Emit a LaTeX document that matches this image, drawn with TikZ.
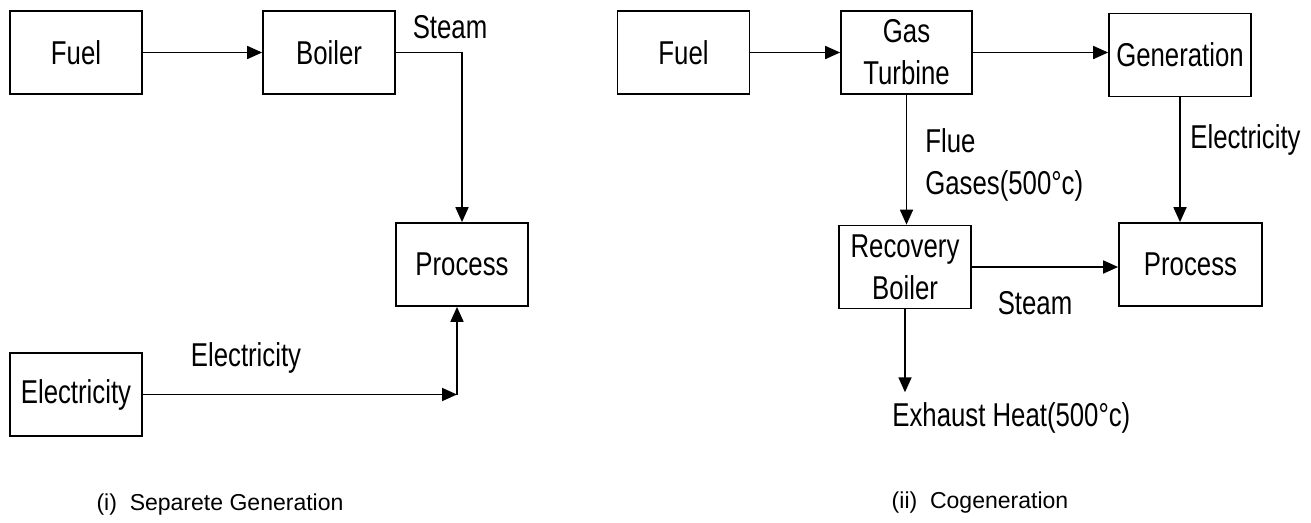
\documentclass[tikz,border=0pt]{standalone}
\usepackage{fontspec}
\setmainfont{Liberation Sans}[FakeStretch=0.78]
\newfontfamily\capfont{Liberation Sans}
\usetikzlibrary{arrows.meta,positioning,calc}
\newcommand{\boxfont}{\fontsize{18.8}{24}\selectfont}
\newcommand{\capsize}{\capfont\fontsize{13.1}{16}\selectfont}

\begin{document}
\begin{tikzpicture}[x=0.02cm, y=-0.02cm,
    box/.style={draw, line width=1pt, minimum width=2.64cm, minimum height=1.66cm, align=center, inner sep=0pt, font=\boxfont},
    lbl/.style={inner sep=0pt, font=\boxfont},
    capnode/.style={inner sep=0pt, font=\capsize},
    arrow/.style={-{Triangle[length=0.3cm, width=0.26cm]}, line width=1pt}
]
\useasboundingbox (0,0) rectangle (1311,522);

% Separate generation
\node[box] (fuelA) at (76,52.5) {Fuel};
\node[box] (boilerA) at (329,52.5) {Boiler};
\node[box] (procA) at (462,264.5) {Process};
\node[box] (elecA) at (76,394.5) {Electricity};
\node[lbl] (steamA) at (450,27) {Steam};
\node[lbl] (elecAlbl) at (246,358) {Electricity};
\node[capnode] (capA) at (220,505) {(i)\ \ Separete Generation};
\coordinate (elbowA) at ([xshift=-0.1cm]procA.south |- elecA.east);

% Cogeneration
\node[box] (fuelB) at (683.5,52.5) {Fuel};
\node[box, minimum width=2.62cm] (gasturb) at (906.5,52.5) {Gas\\Turbine};
\node[box, minimum width=2.84cm] (genB) at (1180,55) {Generation};
\node[box] (recboil) at (905,267) {Recovery\\Boiler};
\node[box, minimum width=2.86cm] (procB) at (1190.5,264.5) {Process};
\node[lbl, anchor=west, align=left] (flue) at (925,165) {Flue\\Gases(500°c)};
\node[lbl, anchor=west] (elecBlbl) at (1190,140) {Electricity};
\node[lbl] (steamB) at (1035,303) {Steam};
\node[lbl, anchor=west] (exhaust) at (892,418) {Exhaust Heat(500°c)};
\node[capnode] (capB) at (980,503) {(ii)\ \ Cogeneration};

% Arrows
\draw[arrow] (fuelA) -- (boilerA);
\draw[arrow] (boilerA.east) -| (procA.north);
\draw[arrow] (elecA.east) -- (elbowA);
\draw[arrow] (elbowA) -- (elbowA |- procA.south);
\draw[arrow] (fuelB) -- (gasturb);
\draw[arrow] (gasturb.east) -- (gasturb.east -| genB.west);
\draw[arrow] (gasturb.south) -- (gasturb.south |- recboil.north);
\draw[arrow] (genB.south) -- (genB.south |- procB.north);
\draw[arrow] (recboil.east) -- (recboil.east -| procB.west);
\draw[arrow, shorten >=0.2cm] (recboil.south) -- (recboil.south |- exhaust.north);
\end{tikzpicture}
\end{document}
